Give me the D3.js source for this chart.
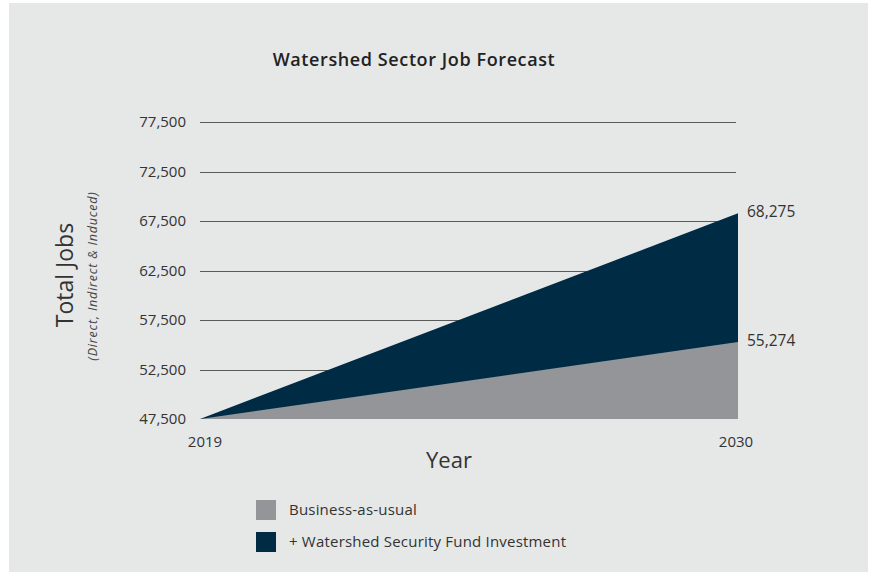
<!DOCTYPE html>
<html>
<head>
<meta charset="utf-8">
<script src="https://cdn.jsdelivr.net/npm/d3@7"></script>
<style>
  body { margin: 0; background: #fff; }
  svg { display: block; }
</style>
</head>
<body>
<svg id="chart" width="872" height="575"></svg>
<script>
// data
const years = [2019, 2030];
const baseline = [47500, 55274];      // Business-as-usual
const withFund = [47500, 68275];      // + Watershed Security Fund Investment
const yTicks = [47500, 52500, 57500, 62500, 67500, 72500, 77500];
const legendItems = ["Business-as-usual", "+ Watershed Security Fund Investment"];
const colors = ["#939598", "#002b45"];

const font = "'Open Sans', Lato, sans-serif";
const svg = d3.select("#chart");

// panel background
svg.append("rect")
    .attr("x", 9).attr("y", 3)
    .attr("width", 859).attr("height", 569)
    .attr("fill", "#e6e7e7");

const x = d3.scaleLinear().domain(d3.extent(years)).range([200, 738]);
const y = d3.scaleLinear().domain([47500, 77500]).range([419, 122]);

// title
svg.append("text")
    .attr("x", 414).attr("y", 66)
    .attr("text-anchor", "middle")
    .attr("font-family", font)
    .attr("font-size", "18px")
    .attr("font-weight", 600)
    .attr("letter-spacing", "0.6px")
    .attr("fill", "#222")
    .text("Watershed Sector Job Forecast");

// gridlines
svg.append("g")
    .selectAll("line")
    .data(yTicks.slice(1))
    .join("line")
    .attr("x1", 200).attr("x2", 736)
    .attr("y1", d => Math.round(y(d)) + 0.5)
    .attr("y2", d => Math.round(y(d)) + 0.5)
    .attr("stroke", "#5a5a5a")
    .attr("stroke-width", 1);

// tick labels
svg.append("g")
    .selectAll("text")
    .data(yTicks)
    .join("text")
    .attr("x", 186)
    .attr("y", d => y(d))
    .attr("dy", "0.35em")
    .attr("text-anchor", "end")
    .attr("font-family", font)
    .attr("font-size", "15px")
    .attr("fill", "#333")
    .text(d => d3.format(",")(d));

// areas
const pts = (arr) => years.map((yr, i) => ({ x: yr, y: arr[i] }));
const area = d3.area()
    .x(d => x(d.x))
    .y0(y(47500))
    .y1(d => y(d.y));

svg.append("path")
    .datum(pts(withFund))
    .attr("d", area)
    .attr("fill", colors[1]);

svg.append("path")
    .datum(pts(baseline))
    .attr("d", area)
    .attr("fill", colors[0]);

// end labels
[withFund, baseline].forEach((arr, i) => {
    svg.append("text")
        .attr("x", x(years[1]) + 9)
        .attr("y", y(arr[1]) + (i === 0 ? -2 : -1))
        .attr("dy", "0.35em")
        .attr("font-family", font)
        .attr("font-size", "15.5px")
        .attr("fill", "#333")
        .text(d3.format(",")(arr[1]));
});

// x labels
svg.append("g")
    .selectAll("text")
    .data(years)
    .join("text")
    .attr("x", d => x(d) + (d === years[0] ? 5 : -2))
    .attr("y", 447)
    .attr("text-anchor", "middle")
    .attr("font-family", font)
    .attr("font-size", "15px")
    .attr("fill", "#333")
    .text(d => d);

// axis titles
svg.append("text")
    .attr("x", 449).attr("y", 468)
    .attr("text-anchor", "middle")
    .attr("font-family", font)
    .attr("font-size", "22px")
    .attr("fill", "#333")
    .text("Year");

svg.append("text")
    .attr("transform", "translate(73,275) rotate(-90)")
    .attr("text-anchor", "middle")
    .attr("font-family", font)
    .attr("font-size", "23px")
    .attr("fill", "#333")
    .text("Total Jobs");

svg.append("text")
    .attr("transform", "translate(97,276) rotate(-90)")
    .attr("text-anchor", "middle")
    .attr("font-family", font)
    .attr("font-size", "12.5px")
    .attr("font-style", "italic")
    .attr("letter-spacing", "0.8px")
    .attr("fill", "#444")
    .text("(Direct, Indirect & Induced)");

// legend
const lg = svg.append("g")
    .selectAll("g")
    .data(legendItems)
    .join("g")
    .attr("transform", (d, i) => `translate(256,${500 + i * 32})`);

lg.append("rect")
    .attr("width", 20).attr("height", 20)
    .attr("fill", (d, i) => colors[i]);

lg.append("text")
    .attr("x", 33).attr("y", 10)
    .attr("dy", "0.35em")
    .attr("font-family", font)
    .attr("font-size", "15px")
    .attr("letter-spacing", "0.2px")
    .attr("fill", "#333")
    .text(d => d);
</script>
</body>
</html>
